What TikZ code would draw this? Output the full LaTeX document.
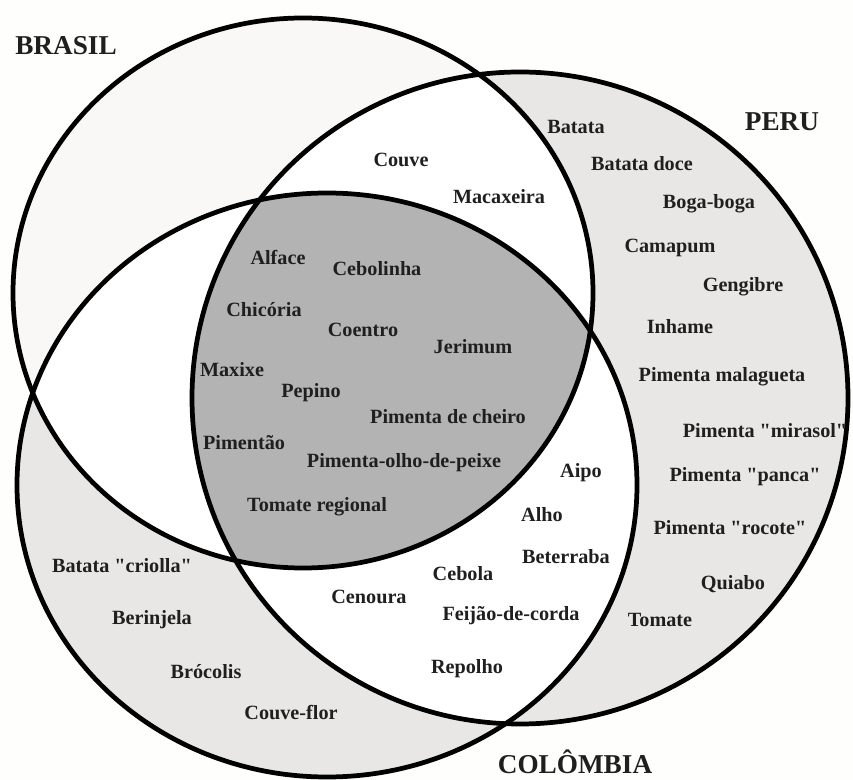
\documentclass[tikz,border=0pt]{standalone}
\usepackage{fontspec}
\setmainfont{Liberation Serif}

\definecolor{fundo}{HTML}{FEFEFC}
\definecolor{sobrasil}{HTML}{FAF8F6}
\definecolor{sopais}{HTML}{E9E7E6}
\definecolor{trespaises}{HTML}{B3B3B3}

\newcommand\circbrasil{(303,-293) ellipse [x radius=290, y radius=275]}
\newcommand\circperu{(520,-398) ellipse [x radius=328, y radius=326]}
\newcommand\circcolombia{(327,-485) ellipse [x radius=310, y radius=292]}
\newcommand\aspas[1]{\textquotedbl#1\textquotedbl}

\begin{document}
\begin{tikzpicture}[x=0.02cm,y=0.02cm,
  item/.style={font=\fontsize{11.5}{13}\selectfont\bfseries, text=black!88, inner sep=0pt},
  pais/.style={font=\fontsize{15.5}{18}\selectfont\bfseries, text=black!88, inner sep=0pt}]
\useasboundingbox (0,0) rectangle (853,-780);
\path[fill=fundo] (0,0) rectangle (853,-780);
% regioes
\path[fill=sobrasil] \circbrasil;
\path[fill=sopais] \circperu;
\path[fill=sopais] \circcolombia;
\begin{scope}
\clip \circbrasil;
\path[fill=white] \circperu;
\path[fill=white] \circcolombia;
\end{scope}
\begin{scope}
\clip \circperu;
\path[fill=white] \circcolombia;
\clip \circbrasil;
\path[fill=trespaises] \circcolombia;
\end{scope}
\path[draw,line width=2.7pt] \circbrasil;
\path[draw,line width=2.7pt] \circperu;
\path[draw,line width=2.7pt] \circcolombia;
% paises
\node[pais] (brasil) at (66,-46) {BRASIL};
\node[pais] (peru) at (782,-122) {PERU};
\node[pais] (colombia) at (575,-762) {COLÔMBIA};
% Brasil e Peru
\node[item] (couve) at (401,-160) {Couve};
\node[item] (macaxeira) at (499,-197) {Macaxeira};
% Peru
\node[item] (batata) at (576,-127) {Batata};
\node[item] (batatadoce) at (642,-164) {Batata doce};
\node[item] (bogaboga) at (709,-204) {Boga-boga};
\node[item] (camapum) at (670,-248) {Camapum};
\node[item] (gengibre) at (743,-287) {Gengibre};
\node[item] (inhame) at (680,-327) {Inhame};
\node[item] (malagueta) at (722,-377) {Pimenta malagueta};
\node[item] (mirasol) at (765,-431) {Pimenta \aspas{mirasol}};
\node[item] (panca) at (745,-477) {Pimenta \aspas{panca}};
\node[item] (rocote) at (730,-528) {Pimenta \aspas{rocote}};
\node[item] (quiabo) at (733,-584) {Quiabo};
\node[item] (tomate) at (660,-620) {Tomate};
% Peru e Colombia
\node[item] (aipo) at (581,-473) {Aipo};
\node[item] (alho) at (542,-515) {Alho};
\node[item] (beterraba) at (566,-557) {Beterraba};
\node[item] (cebola) at (463,-574) {Cebola};
\node[item] (feijao) at (511,-616) {Feijão-de-corda};
\node[item] (repolho) at (467,-669) {Repolho};
\node[item] (cenoura) at (369,-597) {Cenoura};
% Colombia
\node[item] (criolla) at (122,-566) {Batata \aspas{criolla}};
\node[item] (berinjela) at (152,-620) {Berinjela};
\node[item] (brocolis) at (206,-672) {Brócolis};
\node[item] (couveflor) at (291,-713) {Couve-flor};
% os tres
\node[item] (alface) at (278,-257) {Alface};
\node[item] (cebolinha) at (377,-269) {Cebolinha};
\node[item] (chicoria) at (264,-310) {Chicória};
\node[item] (coentro) at (363,-330) {Coentro};
\node[item] (jerimum) at (473,-347) {Jerimum};
\node[item] (maxixe) at (232,-370) {Maxixe};
\node[item] (pepino) at (311,-393) {Pepino};
\node[item] (cheiro) at (448,-417) {Pimenta de cheiro};
\node[item] (pimentao) at (244,-443) {Pimentão};
\node[item] (olhodepeixe) at (404,-463) {Pimenta-olho-de-peixe};
\node[item] (regional) at (317,-507) {Tomate regional};
\end{tikzpicture}
\end{document}
